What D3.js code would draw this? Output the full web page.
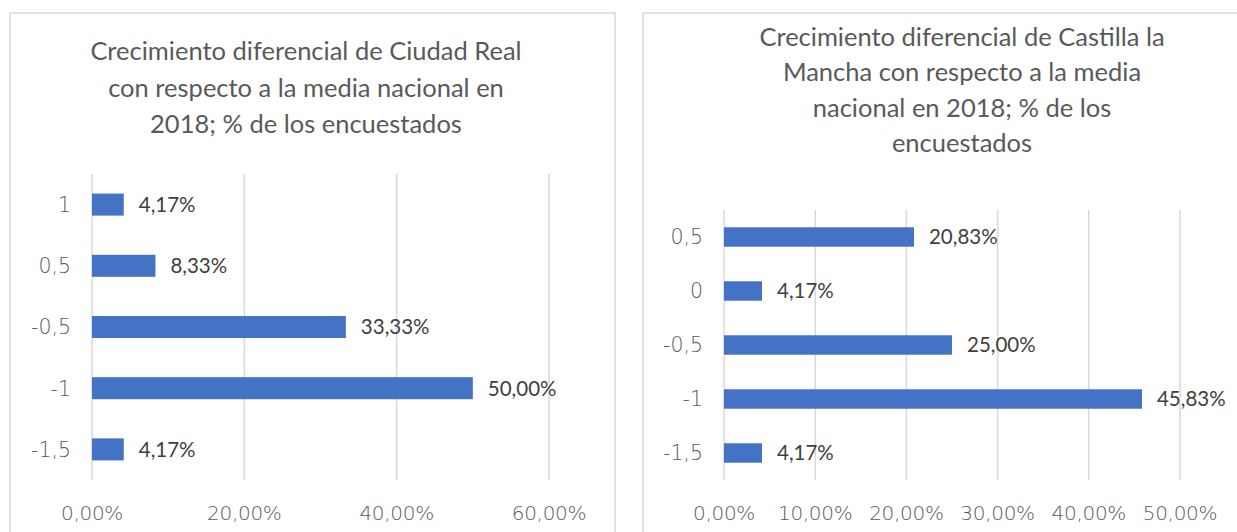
<!DOCTYPE html>
<html>
<head>
<meta charset="utf-8">
<script src="https://cdn.jsdelivr.net/npm/d3@7"></script>
<style>
  body { margin: 0; background: #fff; }
  svg { display: block; }
</style>
</head>
<body>
<svg id="chart" width="1237" height="532"></svg>
<script>
// Ciudad Real
const crTitle = ["Crecimiento diferencial de Ciudad Real",
                 "con respecto a la media nacional en",
                 "2018; % de los encuestados"];
const crCats = ["1", "0,5", "-0,5", "-1", "-1,5"];
const crValues = [4.17, 8.33, 33.33, 50.00, 4.17];
const crTicks = [0, 20, 40, 60];

// Castilla la Mancha
const clmTitle = ["Crecimiento diferencial de Castilla la",
                  "Mancha con respecto a la media",
                  "nacional en 2018; % de los",
                  "encuestados"];
const clmCats = ["0,5", "0", "-0,5", "-1", "-1,5"];
const clmValues = [20.83, 4.17, 25.00, 45.83, 4.17];
const clmTicks = [0, 10, 20, 30, 40, 50];

const svg = d3.select("#chart");
const fmt = v => v.toFixed(2).replace(".", ",") + "%";

function drawPanel(p) {
  const g = svg.append("g");

  // panel frame (runs off the bottom / right of the picture)
  g.append("rect")
    .attr("x", p.box[0]).attr("y", p.box[1])
    .attr("width", p.box[2]).attr("height", p.box[3])
    .attr("fill", "#fff").attr("stroke", "#d9d9d9").attr("stroke-width", 1.5);

  g.selectAll("text.title")
    .data(p.title)
    .enter().append("text")
      .attr("class", "title")
      .attr("x", p.titleX)
      .attr("y", (d, i) => p.titleY + i * p.titleStep)
      .attr("text-anchor", "middle")
      .attr("font-family", "Lato, 'Open Sans', sans-serif")
      .attr("font-size", 25.5)
      .attr("fill", "#595959")
      .text(d => d);

  const x = d3.scaleLinear().domain(p.domain).range(p.xRange);
  const y = d3.scaleBand().domain(p.cats).range(p.yRange).paddingInner(0.64).paddingOuter(0.32);

  // gridlines
  g.selectAll("line.grid")
    .data(p.ticks)
    .enter().append("line")
      .attr("x1", d => x(d)).attr("x2", d => x(d))
      .attr("y1", p.yRange[0]).attr("y2", p.yRange[1])
      .attr("stroke", "#d9d9d9").attr("stroke-width", 1.5);

  // x tick labels
  g.selectAll("text.xt")
    .data(p.ticks)
    .enter().append("text")
      .attr("x", d => x(d))
      .attr("y", 520)
      .attr("text-anchor", "middle")
      .attr("font-family", "'DejaVu Sans', sans-serif")
      .attr("font-weight", 200)
      .attr("font-size", 20)
      .attr("letter-spacing", -0.3)
      .attr("fill", "#595959")
      .text(d => fmt(d));

  // category labels
  g.selectAll("text.yt")
    .data(p.cats)
    .enter().append("text")
      .attr("x", p.xRange[0] - 21)
      .attr("y", d => y(d) + y.bandwidth() / 2)
      .attr("dy", "0.36em")
      .attr("text-anchor", "end")
      .attr("font-family", "'DejaVu Sans', sans-serif")
      .attr("font-weight", 200)
      .attr("font-size", 20.5)
      .attr("fill", "#595959")
      .text(d => d);

  const rows = p.cats.map((c, i) => ({cat: c, value: p.values[i]}));

  g.selectAll("rect.bar")
    .data(rows)
    .enter().append("rect")
      .attr("x", x(0))
      .attr("y", d => y(d.cat))
      .attr("width", d => x(d.value) - x(0))
      .attr("height", y.bandwidth())
      .attr("fill", "#4472c4");

  g.selectAll("text.lbl")
    .data(rows)
    .enter().append("text")
      .attr("x", d => x(d.value) + 15)
      .attr("y", d => y(d.cat) + y.bandwidth() / 2)
      .attr("dy", "0.36em")
      .attr("font-family", "Lato, 'Open Sans', sans-serif")
      .attr("font-size", 20.5)
      .attr("fill", "#404040")
      .text(d => fmt(d.value));
}

drawPanel({
  box: [10, 13, 605, 560],
  title: crTitle, titleX: 306, titleY: 60, titleStep: 36.5,
  cats: crCats, values: crValues, ticks: crTicks,
  domain: [0, 60], xRange: [92, 549], yRange: [174, 480]
});

drawPanel({
  box: [643, 13, 605, 560],
  title: clmTitle, titleX: 962, titleY: 46, titleStep: 35.3,
  cats: clmCats, values: clmValues, ticks: clmTicks,
  domain: [0, 50], xRange: [724, 1180], yRange: [210, 480]
});
</script>
</body>
</html>
